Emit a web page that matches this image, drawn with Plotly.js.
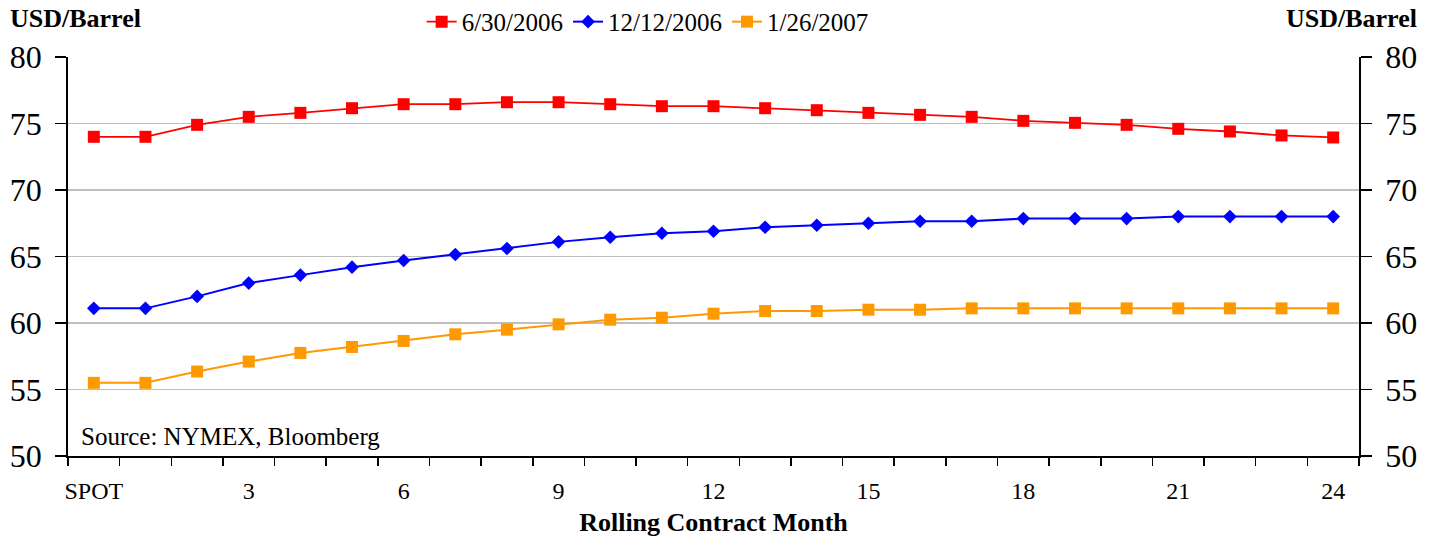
<!DOCTYPE html>
<html>
<head>
<meta charset="utf-8">
<script src="https://cdn.plot.ly/plotly-3.0.1.min.js"></script>
<style>html,body{margin:0;padding:0;background:#fff;}#chart{width:1439px;height:541px;}</style>
</head>
<body>
<div id="chart"></div>
<script>
const months = ['SPOT','1','2','3','4','5','6','7','8','9','10','11','12','13','14','15','16','17','18','19','20','21','22','23','24'];
const monthLabels = ['SPOT','','','3','','','6','','','9','','','12','','','15','','','18','','','21','','','24'];
const jun2006 = [74.0,74.0,74.9,75.5,75.8,76.15,76.45,76.45,76.6,76.6,76.45,76.3,76.3,76.15,76.0,75.8,75.65,75.5,75.2,75.05,74.9,74.6,74.4,74.1,73.95];
const dec2006 = [61.1,61.1,62.0,63.0,63.6,64.2,64.7,65.15,65.6,66.1,66.45,66.75,66.9,67.2,67.35,67.5,67.65,67.65,67.85,67.85,67.85,68.0,68.0,68.0,68.0];
const jan2007 = [55.5,55.5,56.35,57.1,57.75,58.2,58.65,59.15,59.5,59.9,60.25,60.4,60.7,60.9,60.9,61.0,61.0,61.1,61.1,61.1,61.1,61.1,61.1,61.1,61.1];
const seriesNames = ['6/30/2006','12/12/2006','1/26/2007'];

const font = 'Liberation Serif';

const traces = [
  {x: months, y: jun2006, name: seriesNames[0], type: 'scatter', mode: 'lines+markers',
   line: {color: '#ff0000', width: 1.8}, marker: {symbol: 'square', size: 12, color: '#ff0000'}},
  {x: months, y: dec2006, name: seriesNames[1], type: 'scatter', mode: 'lines+markers',
   line: {color: '#0000ff', width: 2}, marker: {symbol: 'diamond', size: 10.5, color: '#0000ff'}},
  {x: months, y: jan2007, name: seriesNames[2], type: 'scatter', mode: 'lines+markers',
   line: {color: '#ff9900', width: 2}, marker: {symbol: 'square', size: 12, color: '#ff9900'}},
  // invisible helper so that the right-hand axis is drawn
  {x: months, y: jun2006, yaxis: 'y2', type: 'scatter', mode: 'lines', opacity: 0,
   line: {width: 0, color: 'rgba(0,0,0,0)'}, showlegend: false, hoverinfo: 'skip'}
];

const layout = {
  width: 1439, height: 541,
  margin: {l: 68, r: 80, t: 57, b: 85, pad: 0, autoexpand: false},
  paper_bgcolor: '#ffffff', plot_bgcolor: '#ffffff',
  font: {family: font, color: '#000000', size: 24},
  showlegend: true,
  legend: {orientation: 'h', x: 0.449, xanchor: 'center', y: 1.088, yanchor: 'middle',
           font: {family: font, size: 25, color: '#000'}, bgcolor: 'rgba(0,0,0,0)'},
  xaxis: {
    type: 'category', categoryorder: 'array', categoryarray: months,
    range: [-0.5, 24.5],
    tickmode: 'array', tickvals: months, ticktext: monthLabels, tickangle: 0,
    tickson: 'boundaries', ticks: 'outside', ticklen: 8, tickwidth: 1.5, tickcolor: '#000',
    showline: true, linecolor: '#000', linewidth: 1.8,
    showgrid: false, zeroline: false,
    tickfont: {family: font, size: 24, color: '#000'},
    ticklabelstandoff: 12,
    title: {text: '<b>Rolling Contract Month</b>', font: {family: font, size: 26, color: '#000'}, standoff: 10},
    automargin: false, fixedrange: true
  },
  yaxis: {
    range: [50, 80], dtick: 5, tick0: 50, tickmode: 'linear',
    ticks: 'outside', ticklen: 11, tickwidth: 1.5, tickcolor: '#000',
    showline: true, linecolor: '#000', linewidth: 1.8,
    showgrid: true, gridcolor: '#c0c0c0', gridwidth: 1.5, zeroline: false,
    tickfont: {family: font, size: 32, color: '#000'},
    ticklabelstandoff: 7,
    automargin: false, fixedrange: true
  },
  yaxis2: {
    overlaying: 'y', side: 'right', anchor: 'x',
    range: [50, 80], dtick: 5, tick0: 50, tickmode: 'linear',
    ticks: 'outside', ticklen: 11, tickwidth: 1.5, tickcolor: '#000',
    showline: true, linecolor: '#000', linewidth: 1.8,
    showgrid: false, zeroline: false,
    tickfont: {family: font, size: 32, color: '#000'},
    ticklabelstandoff: 7,
    automargin: false, fixedrange: true
  },
  annotations: [
    {text: '<b>USD/Barrel</b>', xref: 'paper', yref: 'paper', x: -0.0465, xanchor: 'left',
     y: 1.097, yanchor: 'middle', showarrow: false, font: {family: font, size: 26, color: '#000'}},
    {text: '<b>USD/Barrel</b>', xref: 'paper', yref: 'paper', x: 1.0465, xanchor: 'right',
     y: 1.097, yanchor: 'middle', showarrow: false, font: {family: font, size: 26, color: '#000'}},
    {text: 'Source: NYMEX, Bloomberg', xref: 'paper', yref: 'paper', x: 0.0085, xanchor: 'left',
     y: 0.048, yanchor: 'middle', showarrow: false, font: {family: font, size: 25, color: '#000'}}
  ]
};

Plotly.newPlot('chart', traces, layout, {displayModeBar: false, staticPlot: true});
</script>
</body>
</html>
